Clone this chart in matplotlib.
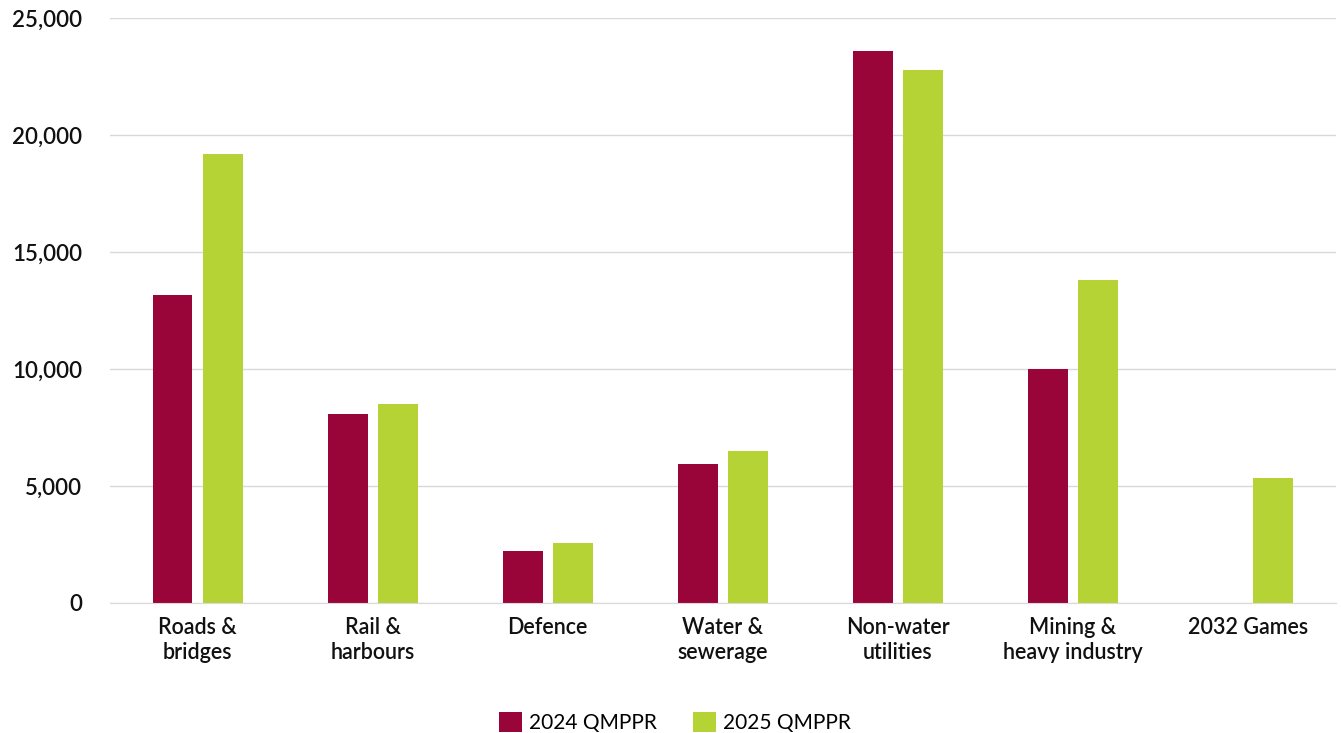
import matplotlib.pyplot as plt
import numpy as np

# chart data
categories = ['Roads &\nbridges', 'Rail &\nharbours', 'Defence', 'Water &\nsewerage',
              'Non-water\nutilities', 'Mining &\nheavy industry', '2032 Games']
qmppr_2024 = [13150, 8080, 2220, 5950, 23600, 10020, 0]
qmppr_2025 = [19180, 8520, 2580, 6480, 22780, 13820, 5360]
yticks = [0, 5000, 10000, 15000, 20000, 25000]

plt.rcParams['font.family'] = ['Lato', 'DejaVu Sans']

fig = plt.figure(figsize=(13.41, 7.33), dpi=100)
ax = fig.add_axes([0.082, 0.1774, 0.914, 0.798])

x = np.arange(len(categories))
w = 0.228
off = 0.143
ax.bar(x - off, qmppr_2024, w, color='#990538', label='2024 QMPPR', zorder=3)
ax.bar(x + off, qmppr_2025, w, color='#B5D334', label='2025 QMPPR', zorder=3)

ax.set_xlim(-0.5, len(categories) - 0.5)
ax.set_ylim(0, 25000)
ax.set_yticks(yticks)
ax.set_yticklabels([f'{v:,}' for v in yticks], fontsize=16, fontweight='semibold')
ax.set_xticks(x)
ax.set_xticklabels(categories, fontsize=15.5, fontweight='semibold', linespacing=1.25)
ax.tick_params(axis='both', length=0, colors='#111111')
ax.tick_params(axis='x', pad=10)
ax.tick_params(axis='y', pad=20)

ax.grid(axis='y', color='#d9d9d9', linewidth=1, zorder=0)
for s in ['top', 'right', 'left']:
    ax.spines[s].set_visible(False)
ax.spines['bottom'].set_color('#d9d9d9')
ax.spines['bottom'].set_zorder(4)

ax.legend(loc='center', bbox_to_anchor=(0.461, -0.205), ncol=2, frameon=False,
          fontsize=15, handlelength=1.1, handleheight=1.1, columnspacing=1.7,
          handletextpad=0.35)

fig.savefig('out.png', dpi=100)
